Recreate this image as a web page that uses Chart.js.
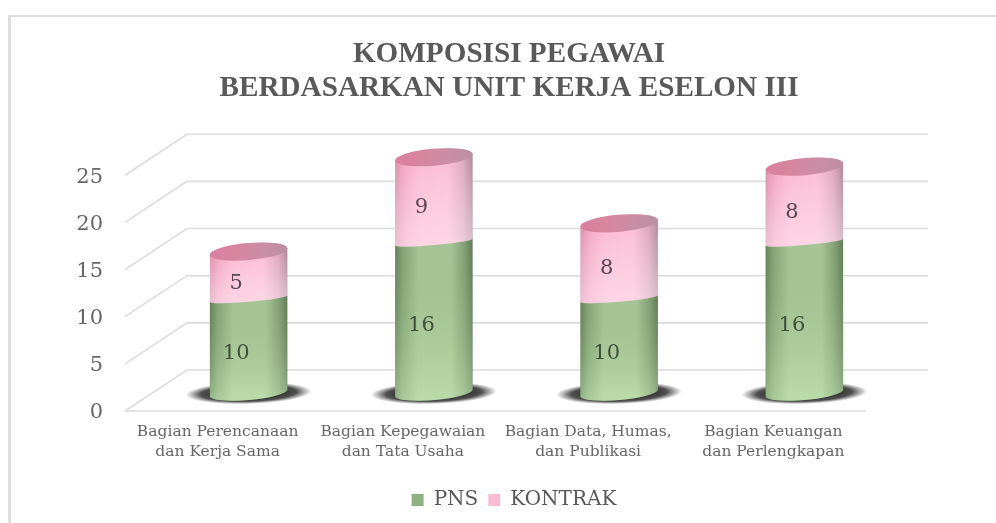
<!DOCTYPE html>
<html><head><meta charset="utf-8">
<style>
html,body{margin:0;padding:0;background:#fff;width:996px;height:523px;overflow:hidden}
#wrap{position:absolute;left:0;top:0;width:996px;height:523px}
#frame{position:absolute;left:8px;top:15px;right:-4px;bottom:-4px;border:2px solid #dedede;border-width:2px 0 0 3px}
canvas{position:absolute;left:0;top:0}
</style>
<script src="https://cdn.jsdelivr.net/npm/chart.js@4"></script>
</head><body>
<div id="wrap"><div id="frame"></div><canvas id="c" width="996" height="523"></canvas></div>
<script>
const categories=[["Bagian Perencanaan","dan Kerja Sama"],["Bagian Kepegawaian","dan Tata Usaha"],["Bagian Data, Humas,","dan Publikasi"],["Bagian Keuangan","dan Perlengkapan"]];
const pns=[10,16,10,16];
const kontrak=[5,9,8,8];
const titleLines=["KOMPOSISI PEGAWAI","BERDASARKAN UNIT KERJA ESELON III"];
const seriesNames=["PNS","KONTRAK"];
const SERIF='"DejaVu Serif"';
const DX=31,DY=-18,BX=62,BY=-41,TILT=-0.087;
let drawingSeries=0;

function hGrad(ctx,l,r,stops){const g=ctx.createLinearGradient(l,0,r,0);stops.forEach(s=>g.addColorStop(s[0],s[1]));return g;}
const bodyStops=[
 [[0,'#5f7f57'],[.1,'#86a578'],[.3,'#a9c799'],[.72,'#a9c799'],[.9,'#829f75'],[1,'#5f7a57']],
 [[0,'#d98fa9'],[.12,'#f3a6c1'],[.3,'#fbb9d1'],[.68,'#fbbdd4'],[.88,'#dda6ba'],[1,'#b08a99']]
];
const capStops=[[0,'#d97f9e'],[.35,'#d6869f'],[.7,'#c98ea5'],[1,'#bb8ea2']];
const liftTop=['rgba(120,150,100,.08)','rgba(255,255,255,0)'];
const liftBottom=['rgba(210,245,190,.42)','rgba(255,240,248,.5)'];

Chart.BarElement.prototype.draw=function(ctx){
  const p=this.getProps(['x','y','base','width'],true);
  const i=drawingSeries;
  const cx=p.x+DX,rx=p.width/2,yt=p.y+DY,yb=p.base+DY,l=cx-rx,r=cx+rx;
  ctx.save();
  if(i===0){
    ctx.save();
    ctx.translate(cx,yb);ctx.rotate(TILT/3);ctx.scale(63,11);
    const s=ctx.createRadialGradient(0,0,.4,0,0,1);
    s.addColorStop(0,'rgba(35,35,35,1)');s.addColorStop(.6,'rgba(50,50,50,.85)');s.addColorStop(1,'rgba(70,70,70,0)');
    ctx.fillStyle=s;ctx.beginPath();ctx.arc(0,0,1,0,Math.PI*2);ctx.fill();
    ctx.restore();
  }
  ctx.beginPath();
  if(i===0){
    ctx.ellipse(cx,yb,rx,7,TILT,0,Math.PI,false);
    ctx.ellipse(cx,yt,rx,3,TILT,Math.PI,0,true);
  }else{
    ctx.ellipse(cx,yb,rx,3,TILT,0,Math.PI,false);
    ctx.ellipse(cx,yt,rx,8.5,TILT,Math.PI,Math.PI*2,false);
  }
  ctx.closePath();
  ctx.fillStyle=hGrad(ctx,l,r,bodyStops[i]);ctx.fill();
  const v=ctx.createLinearGradient(0,yt,0,yb+4);
  v.addColorStop(0,liftTop[i]);v.addColorStop(1,liftBottom[i]);
  ctx.fillStyle=v;ctx.fill();
  if(i===1){
    ctx.beginPath();ctx.ellipse(cx,yt,rx,8.5,TILT,0,Math.PI*2);
    ctx.fillStyle=hGrad(ctx,l,r,capStops);ctx.fill();
  }
  ctx.restore();
};

const depthGrid={id:'depthGrid',
  afterLayout(ch){ch.legend.left+=5;ch.legend.right+=5;},
  beforeDatasetDraw(ch,args){drawingSeries=args.index;},
  beforeDatasetsDraw(ch){
    const {ctx,scales:{x,y}}=ch;
    ctx.save();ctx.strokeStyle='#dcdcdc';ctx.lineWidth=1.6;
    y.ticks.forEach(t=>{
      const py=y.getPixelForValue(t.value);
      ctx.beginPath();ctx.moveTo(x.left,py);ctx.lineTo(x.left+BX,py+BY);ctx.lineTo(x.right+BX,py+BY);ctx.stroke();
    });
    const p0=y.getPixelForValue(0);
    ctx.beginPath();ctx.moveTo(x.left,p0);ctx.lineTo(x.right,p0);ctx.stroke();
    ctx.restore();
  }};
const valueLabels={id:'valueLabels',
  afterDatasetsDraw(ch){
    const ctx=ch.ctx;ctx.save();
    ctx.textAlign='center';ctx.textBaseline='middle';ctx.font='21px '+SERIF;
    ch.data.datasets.forEach((ds,d)=>{
      ch.getDatasetMeta(d).data.forEach((b,k)=>{
        ctx.fillStyle=d===0?'#3f4f3a':'#5a4650';
        ctx.fillText(ds.data[k],b.x+18.5,(b.y+b.base)/2-10);
      });
    });
    ctx.restore();
  }};

new Chart(document.getElementById('c'),{
  type:'bar',
  data:{labels:categories,datasets:[
    {label:seriesNames[0],data:pns,backgroundColor:'#8fb083',barPercentage:.42,categoryPercentage:1,clip:false},
    {label:seriesNames[1],data:kontrak,backgroundColor:'#f8bcd2',barPercentage:.42,categoryPercentage:1,clip:false}
  ]},
  options:{
    responsive:false,animation:false,
    layout:{padding:{left:22,right:0,top:0,bottom:3}},
    plugins:{
      tooltip:{enabled:false},
      title:{display:true,text:titleLines,color:'#595959',font:{family:'"Liberation Serif"',size:29.2,weight:'bold',lineHeight:1.17},padding:{top:37,bottom:29}},
      legend:{position:'bottom',labels:{color:'#595959',font:{family:SERIF,size:20},boxWidth:12,boxHeight:12,padding:10}}
    },
    scales:{
      x:{stacked:true,grid:{display:false},border:{display:false},
         ticks:{color:'#666',font:{family:SERIF,size:15.5,lineHeight:1.28},padding:3,maxRotation:0,autoSkip:false},
         afterFit(s){s.height=69;}},
      y:{stacked:true,min:0,max:29.34,grid:{display:false},border:{display:false},
         ticks:{stepSize:5,includeBounds:false,color:'#666',font:{family:SERIF,size:21},padding:14,labelOffset:2},
         afterFit(s){s.width=103;}},
      rightSpace:{position:'right',grid:{display:false},border:{display:false},ticks:{display:false},afterFit(s){s.width=130;}}
    }
  },
  plugins:[depthGrid,valueLabels]
});
</script>
</body></html>
